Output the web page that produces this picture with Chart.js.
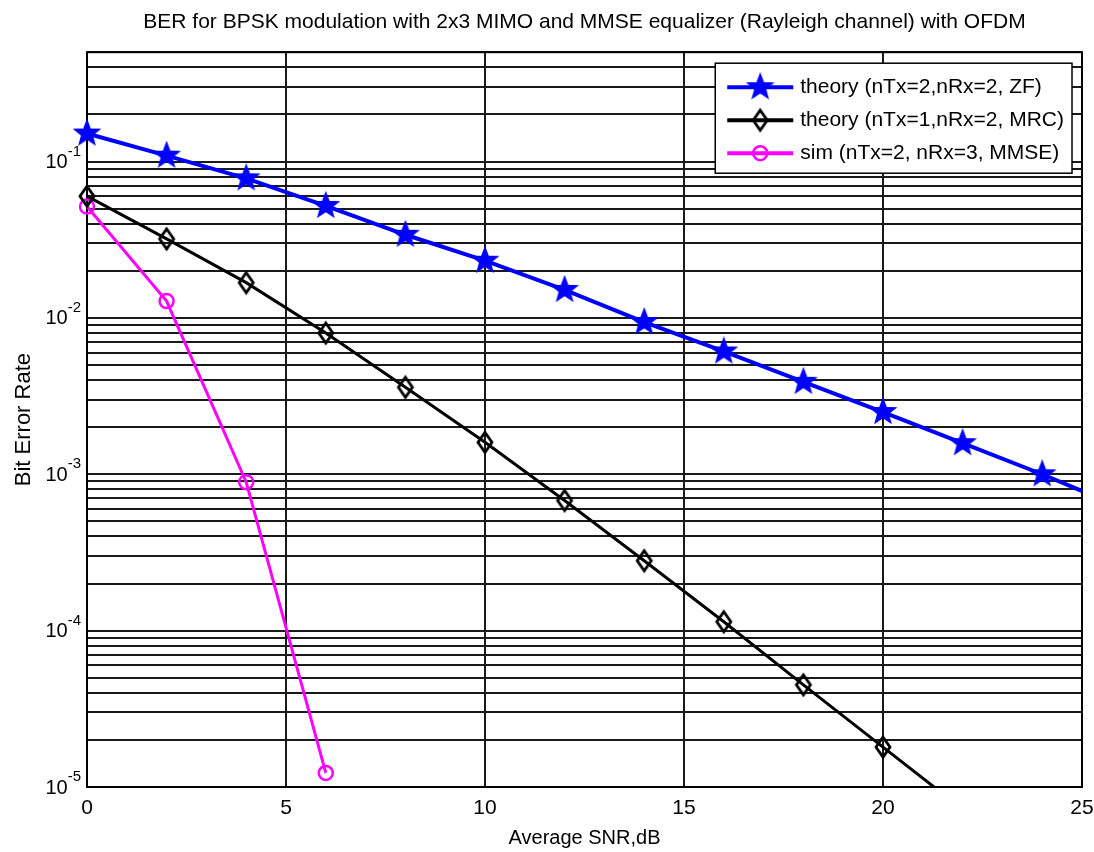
<!DOCTYPE html>
<html>
<head>
<meta charset="utf-8">
<title>BER for BPSK modulation with 2x3 MIMO and MMSE equalizer (Rayleigh channel) with OFDM</title>
<script src="https://cdn.jsdelivr.net/npm/chart.js@4.4.0/dist/chart.umd.min.js"></script>
<style>
  html, body { margin: 0; padding: 0; background: #fff; }
  #wrap { width: 1094px; height: 852px; }
</style>
</head>
<body>
<div id="wrap"><canvas id="berChart" width="1094" height="852"></canvas></div>
<script>
// Eb/No points (dB); the last ones fall outside the axes and get clipped
const snrDb = [0, 2, 4, 6, 8, 10, 12, 14, 16, 18, 20, 22, 24, 26];

// theory (nTx=2, nRx=2, ZF)
const berZf = [0.151, 0.109, 0.078, 0.052, 0.034, 0.0232, 0.0151, 0.0094, 0.0061, 0.0039, 0.0025, 0.00158, 0.001, 0.00061];
// theory (nTx=1, nRx=2, MRC)
const berMrc = [0.06, 0.032, 0.0168, 0.008, 0.0036, 0.0016, 0.00068, 0.00028, 0.000114, 0.000045, 0.000018, 0.0000072];
// sim (nTx=2, nRx=3, MMSE)
const berSim = [0.0515, 0.0128, 0.00089, 0.0000123];

const seriesLabels = [
  "theory (nTx=2,nRx=2, ZF)",
  "theory (nTx=1,nRx=2, MRC)",
  "sim (nTx=2, nRx=3, MMSE)",
];

const xTicks = [0, 5, 10, 15, 20, 25];
const yDecades = [1e-5, 1e-4, 1e-3, 1e-2, 1e-1];
const yMax = 0.5;

const FONT = "'Liberation Sans', Arial, Helvetica, sans-serif";

// log grid: 1..9 per decade, up to the top of the axis
const yGrid = [];
yDecades.forEach((d) => {
  for (let m = 1; m <= 9; m++) {
    const v = +(m * d).toPrecision(3);
    if (v <= yMax) yGrid.push(v);
  }
});

// filled pentagram marker
function makeStar(color, rOut) {
  const c = document.createElement("canvas");
  const s = Math.ceil(rOut * 2 + 4);
  c.width = s;
  c.height = s;
  const ctx = c.getContext("2d");
  const rIn = rOut * 0.42;
  ctx.beginPath();
  for (let i = 0; i < 10; i++) {
    const r = i % 2 === 0 ? rOut : rIn;
    const a = -Math.PI / 2 + (i * Math.PI) / 5;
    const px = s / 2 + r * Math.cos(a);
    const py = s / 2 + r * Math.sin(a);
    if (i === 0) ctx.moveTo(px, py);
    else ctx.lineTo(px, py);
  }
  ctx.closePath();
  ctx.fillStyle = color;
  ctx.fill();
  ctx.strokeStyle = color;
  ctx.lineWidth = 1.5;
  ctx.stroke();
  return c;
}

// tall open diamond marker (MATLAB 'd')
function makeDiamond(color, hw, hh) {
  const c = document.createElement("canvas");
  c.width = Math.ceil(hw * 2 + 6);
  c.height = Math.ceil(hh * 2 + 6);
  const ctx = c.getContext("2d");
  const cx = c.width / 2;
  const cy = c.height / 2;
  ctx.beginPath();
  ctx.moveTo(cx, cy - hh);
  ctx.lineTo(cx + hw, cy);
  ctx.lineTo(cx, cy + hh);
  ctx.lineTo(cx - hw, cy);
  ctx.closePath();
  ctx.strokeStyle = color;
  ctx.lineWidth = 2.8;
  ctx.stroke();
  return c;
}

const starImg = makeStar("#0000ff", 13);
const diamondImg = makeDiamond("#000000", 7, 10);

function toPoints(ys) {
  return ys.map((y, i) => ({ x: snrDb[i], y: y }));
}

// box around the axes, like MATLAB's "box on"
const frame = {
  id: "frame",
  beforeDatasetsDraw(chart) {
    const a = chart.chartArea;
    const ctx = chart.ctx;
    ctx.save();
    ctx.strokeStyle = "#000";
    ctx.lineWidth = 2;
    ctx.strokeRect(a.left, a.top, a.right - a.left, a.bottom - a.top);
    ctx.restore();
  },
};

// "10" with a raised exponent at each decade of the log axis
const decadeLabels = {
  id: "decadeLabels",
  afterDraw(chart) {
    const y = chart.scales.y;
    const ctx = chart.ctx;
    ctx.save();
    ctx.fillStyle = "#000";
    ctx.textBaseline = "middle";
    yDecades.forEach((d) => {
      const py = y.getPixelForValue(d);
      const exp = String(Math.round(Math.log10(d)));
      ctx.font = "15px " + FONT;
      const ew = ctx.measureText(exp).width;
      const right = chart.chartArea.left - 6;
      ctx.textAlign = "left";
      ctx.fillText(exp, right - ew, py - 10);
      ctx.font = "20px " + FONT;
      ctx.textAlign = "right";
      ctx.fillText("10", right - ew, py + 1);
    });
    ctx.restore();
  },
};

// legend box in the upper right corner of the axes
const boxLegend = {
  id: "boxLegend",
  afterDatasetsDraw(chart) {
    const a = chart.chartArea;
    const ctx = chart.ctx;
    ctx.save();
    ctx.font = "21px " + FONT;
    const textW = Math.max(...chart.data.datasets.map((d) => ctx.measureText(d.label).width));
    const rowH = 33;
    const sampleW = 66;
    const w = 12 + sampleW + 7 + textW + 8;
    const h = rowH * chart.data.datasets.length + 11;
    const x0 = a.right - 10 - w;
    const y0 = a.top + 11;
    ctx.fillStyle = "#fff";
    ctx.fillRect(x0, y0, w, h);
    ctx.strokeStyle = "#000";
    ctx.lineWidth = 1.5;
    ctx.strokeRect(x0, y0, w, h);
    chart.data.datasets.forEach((d, i) => {
      const cy = y0 + 24 + i * rowH;
      const lx = x0 + 12;
      ctx.strokeStyle = d.borderColor;
      ctx.lineWidth = 4;
      ctx.beginPath();
      ctx.moveTo(lx, cy);
      ctx.lineTo(lx + sampleW, cy);
      ctx.stroke();
      ctx.fillStyle = "rgba(0,0,0,0)";
      ctx.lineWidth = d.pointBorderWidth || 1;
      Chart.helpers.drawPoint(ctx, {
        pointStyle: d.pointStyle,
        radius: d.pointRadius,
        borderWidth: d.pointBorderWidth || 1,
        rotation: 0,
      }, lx + sampleW / 2, cy);
      ctx.fillStyle = "#000";
      ctx.textBaseline = "middle";
      ctx.textAlign = "left";
      ctx.fillText(d.label, lx + sampleW + 7, cy);
    });
    ctx.restore();
  },
};

const clipBox = { left: 20, top: 20, right: 0, bottom: 0 };

const ctx = document.getElementById("berChart").getContext("2d");
new Chart(ctx, {
  type: "line",
  data: {
    datasets: [
      {
        label: seriesLabels[0],
        data: toPoints(berZf),
        borderColor: "#0000ff",
        backgroundColor: "#0000ff",
        borderWidth: 4,
        pointStyle: starImg,
        pointRadius: 12,
        clip: clipBox,
      },
      {
        label: seriesLabels[1],
        data: toPoints(berMrc),
        borderColor: "#000000",
        backgroundColor: "#000000",
        borderWidth: 3,
        pointStyle: diamondImg,
        pointRadius: 10,
        clip: clipBox,
      },
      {
        label: seriesLabels[2],
        data: toPoints(berSim),
        borderColor: "#ff00ff",
        backgroundColor: "rgba(0,0,0,0)",
        borderWidth: 3,
        pointStyle: "circle",
        pointRadius: 7,
        pointBorderWidth: 2.5,
        pointBorderColor: "#ff00ff",
        clip: clipBox,
      },
    ],
  },
  options: {
    responsive: false,
    animation: false,
    layout: { autoPadding: false, padding: { top: 0, right: 12, bottom: 0, left: 0 } },
    plugins: {
      legend: { display: false },
      tooltip: { enabled: false },
      title: {
        display: true,
        fullSize: false,
        text: "BER for BPSK modulation with 2x3 MIMO and MMSE equalizer (Rayleigh channel) with OFDM",
        color: "#000",
        font: { size: 21, family: FONT, weight: "normal" },
        padding: { top: 10, bottom: 17 },
      },
    },
    scales: {
      x: {
        type: "linear",
        min: 0,
        max: 25,
        afterBuildTicks: (s) => { s.ticks = xTicks.map((v) => ({ value: v })); },
        afterFit: (s) => {
          s.height = 65;
          s.paddingLeft = 0;
          s.paddingRight = 0;
        },
        ticks: {
          color: "#000",
          font: { size: 21, family: FONT },
          padding: 9,
          maxRotation: 0,
        },
        grid: { color: "#1a1a1a", lineWidth: 2, drawTicks: false },
        border: { display: false },
        title: {
          display: true,
          text: "Average SNR,dB",
          color: "#000",
          font: { size: 20, family: FONT },
          padding: { top: 0, bottom: 2 },
        },
      },
      y: {
        type: "logarithmic",
        min: yDecades[0],
        max: yMax,
        afterBuildTicks: (s) => { s.ticks = yGrid.map((v) => ({ value: v })); },
        afterFit: (s) => { s.width = 87; },
        ticks: { display: false, autoSkip: false },
        grid: { color: "#1a1a1a", lineWidth: 2, drawTicks: false },
        border: { display: false },
        title: {
          display: true,
          text: "Bit Error Rate",
          color: "#000",
          font: { size: 22, family: FONT },
          padding: { top: 11, bottom: 0 },
        },
      },
    },
  },
  plugins: [frame, decadeLabels, boxLegend],
});
</script>
</body>
</html>
